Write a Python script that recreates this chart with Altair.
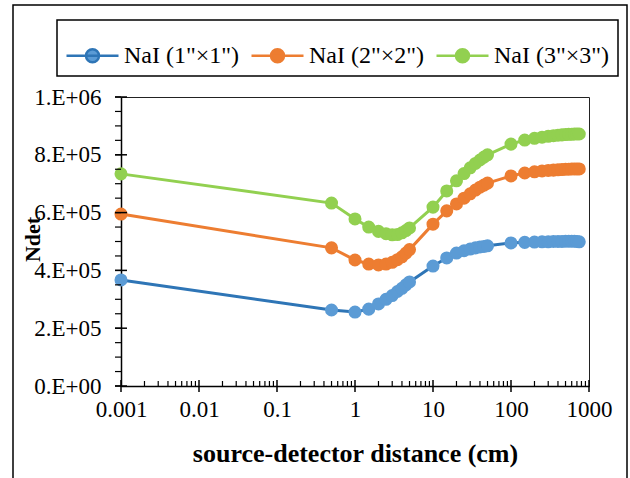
import altair as alt
import pandas as pd

distance = [0.001, 0.5, 1, 1.5, 2, 2.5, 3, 3.5, 4, 4.5, 5, 10, 15, 20, 25, 30, 35, 40, 45, 50,
            100, 150, 200, 250, 300, 350, 400, 450, 500, 550, 600, 650, 700, 750]
nai_1x1 = [3.67, 2.63, 2.56, 2.66, 2.84, 3.00, 3.13, 3.27, 3.38, 3.50, 3.60, 4.15, 4.43, 4.60, 4.68,
           4.74, 4.78, 4.81, 4.83, 4.85, 4.95, 4.97, 4.98, 4.99, 4.99, 5.00, 5.00, 5.00, 5.01, 5.01,
           5.01, 5.01, 5.00, 4.99]
nai_2x2 = [5.95, 4.78, 4.36, 4.22, 4.19, 4.22, 4.28, 4.37, 4.47, 4.60, 4.72, 5.60, 6.06, 6.30, 6.50,
           6.65, 6.78, 6.88, 6.95, 7.02, 7.27, 7.37, 7.41, 7.44, 7.46, 7.47, 7.48, 7.49, 7.50, 7.50,
           7.51, 7.51, 7.51, 7.51]
nai_3x3 = [7.34, 6.33, 5.78, 5.50, 5.35, 5.27, 5.23, 5.24, 5.30, 5.38, 5.47, 6.19, 6.75, 7.10, 7.35,
           7.55, 7.70, 7.82, 7.92, 8.00, 8.37, 8.51, 8.57, 8.61, 8.64, 8.66, 8.68, 8.69, 8.70, 8.71,
           8.71, 8.72, 8.72, 8.72]
series_names = ['NaI (1"×1")', 'NaI (2"×2")', 'NaI (3"×3")']
line_colors = ["#2E75B6", "#ED7D31", "#92D050"]
marker_colors = ["#5B9BD5", "#ED7D31", "#92D050"]
y_ticks = [0, 200000, 400000, 600000, 800000, 1000000]
y_labels = ["0.E+00", "2.E+05", "4.E+05", "6.E+05", "8.E+05", "1.E+06"]
x_ticks = [0.001, 0.01, 0.1, 1, 10, 100, 1000]

rows = []
for name, vals in zip(series_names, [nai_1x1, nai_2x2, nai_3x3]):
    for d, v in zip(distance, vals):
        rows.append({"d": d, "n": v * 1e5, "series": name})
df = pd.DataFrame(rows)

FONT = "Liberation Serif"
W, H = 468, 289

xscale = alt.Scale(type="log", domain=[0.001, 1000])
yscale = alt.Scale(domain=[0, 1000000], nice=False)

label_expr = "[" + ",".join("'%s'" % s for s in y_labels) + "][round(datum.value/200000)]"

xaxis = alt.Axis(values=x_ticks, labelExpr="format(datum.value, '~g')", ticks=False, tickSize=0,
                 grid=False, domainColor="black", domainWidth=1.5, labelFont=FONT, labelFontSize=23,
                 labelColor="black", labelPadding=12, title="source-detector distance (cm)",
                 titleFont=FONT, titleFontSize=26, titleFontWeight="bold", titleColor="black",
                 titleY=67, titleBaseline="middle", labelFlush=False)
yaxis = alt.Axis(values=y_ticks, labelExpr=label_expr, ticks=False, tickSize=0, grid=False,
                 domainColor="black", domainWidth=1.5, labelFont=FONT, labelFontSize=23,
                 labelColor="black", labelPadding=20, title="Ndet", titleFont=FONT,
                 titleFontSize=22, titleFontWeight="bold", titleColor="black", titleAngle=270,
                 titleX=-89, titleY=142, titleAlign="center", titleBaseline="middle")

legend_symbol = "M-1,0L1,0M-0.25,0A0.25,0.25,0,1,1,0.25,0A0.25,0.25,0,1,1,-0.25,0Z"

base = alt.Chart(df)
lines = base.mark_line(strokeWidth=3).encode(
    x=alt.X("d:Q", scale=xscale, axis=xaxis),
    y=alt.Y("n:Q", scale=yscale, axis=yaxis),
    stroke=alt.Stroke("series:N", scale=alt.Scale(domain=series_names, range=line_colors),
                      legend=alt.Legend(title=None)),
    detail="series:N",
)
points = base.mark_circle(size=170, opacity=1).encode(
    x=alt.X("d:Q", scale=xscale, axis=xaxis),
    y=alt.Y("n:Q", scale=yscale, axis=yaxis),
    fill=alt.Fill("series:N", scale=alt.Scale(domain=series_names, range=marker_colors),
                  legend=alt.Legend(title=None)),
)

# tick marks
y_minor = pd.DataFrame({"v": [i * 50000 for i in range(21)]})
y_major = pd.DataFrame({"v": y_ticks})
x_minor_vals = []
for dec in [0.001, 0.01, 0.1, 1, 10, 100]:
    for k in range(2, 10):
        x_minor_vals.append(dec * k)
x_minor = pd.DataFrame({"v": x_minor_vals})
x_major = pd.DataFrame({"v": x_ticks})

ymin_r = alt.Chart(y_minor).mark_rule(color="black", strokeWidth=1.2).encode(
    y=alt.Y("v:Q", scale=yscale, axis=yaxis), x=alt.value(-6), x2=alt.value(0))
ymaj_r = alt.Chart(y_major).mark_rule(color="black", strokeWidth=1.5).encode(
    y=alt.Y("v:Q", scale=yscale, axis=yaxis), x=alt.value(-6), x2=alt.value(6))
xmin_r = alt.Chart(x_minor).mark_rule(color="black", strokeWidth=1.2).encode(
    x=alt.X("v:Q", scale=xscale, axis=xaxis), y=alt.value(H - 5), y2=alt.value(H))
xmaj_r = alt.Chart(x_major).mark_rule(color="black", strokeWidth=1.5).encode(
    x=alt.X("v:Q", scale=xscale, axis=xaxis), y=alt.value(H - 6), y2=alt.value(H + 6))

frame = alt.Chart(pd.DataFrame({"a": [0]})).mark_rect(
    fill=None, stroke="black", strokeWidth=1.5, clip=False).encode(
    x=alt.value(-108), x2=alt.value(506), y=alt.value(-92), y2=alt.value(400))

chart = alt.layer(lines, points, ymin_r, ymaj_r, xmin_r, xmaj_r, frame).properties(
    width=W, height=H,
    padding={"left": 121, "top": 97, "right": 41, "bottom": 92},
    autosize=alt.AutoSizeParams(type="none"),
    background="white",
).configure_view(stroke="#222222", strokeWidth=1).configure_legend(
    orient="none", legendX=-64, legendY=-77, direction="horizontal",
    strokeColor="black", strokeWidth=1.5, padding=8, fillColor="white",
    symbolType=legend_symbol, symbolSize=2704, symbolStrokeWidth=2.5,
    labelFont=FONT, labelFontSize=24, labelColor="black", labelOffset=4,
    columnPadding=6, labelLimit=300,
)

chart.save("out.html", embed_options={"renderer": "svg", "actions": False})
